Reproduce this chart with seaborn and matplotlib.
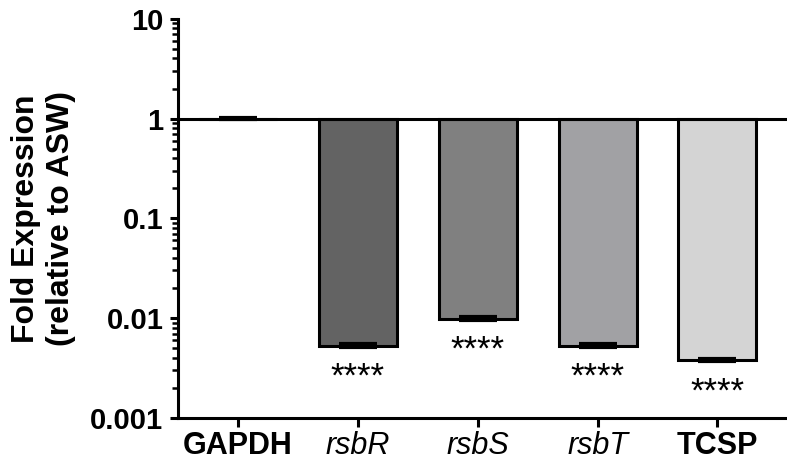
"""
Expresión relativa (fold change vs ASW) de genes rsb y TCSP, eje log.
"""

import matplotlib
matplotlib.use("Agg")
import matplotlib.pyplot as plt
import numpy as np
import seaborn as sns

genes = ["GAPDH", "rsbR", "rsbS", "rsbT", "TCSP"]
fold = [1.0, 0.0053, 0.0099, 0.0053, 0.0038]
sem = [0.02, 0.0002, 0.0003, 0.0002, 0.0001]
gris = ["#ffffff", "#636363", "#808080", "#a1a1a4", "#d4d4d4"]
signif = ["", "****", "****", "****", "****"]
italica = [False, True, True, True, False]

sns.set_style("ticks")
plt.rcParams["font.family"] = ["Liberation Sans", "DejaVu Sans"]
# todo en negro, como en Prism
for clave in ["text.color", "axes.labelcolor", "xtick.color", "ytick.color",
              "axes.edgecolor"]:
    plt.rcParams[clave] = "black"

fig = plt.figure(figsize=(7.87, 4.70), dpi=100)
ax = fig.add_axes([0.226, 0.111, 0.774, 0.849])

x = np.arange(len(genes))
lw = 2.2
# barras que cuelgan desde 1 (sin cambio) hacia abajo
ax.bar(x, np.array(fold) - 1, bottom=1, width=0.65, color=gris,
       edgecolor="black", linewidth=lw, zorder=2)
ax.errorbar(x, fold, yerr=sem, fmt="none", ecolor="black",
            capsize=14, capthick=3, elinewidth=2, zorder=3)
ax.axhline(1, color="black", linewidth=lw, zorder=4)

for xi, v, s in zip(x, fold, signif):
    if s:
        ax.annotate(s, (xi, v), xytext=(0, -11), textcoords="offset points",
                    ha="center", va="top", fontsize=25)

ax.set_yscale("log")
ax.set_ylim(0.001, 10)
ax.set_xlim(-0.5, 4.58)
ax.set_yticks([0.001, 0.01, 0.1, 1, 10])
ax.set_yticklabels(["0.001", "0.01", "0.1", "1", "10"],
                   fontsize=21, fontweight="bold")
ax.set_xticks(x)
ax.set_xticklabels(genes, fontsize=22)
for lab, it in zip(ax.get_xticklabels(), italica):
    if it:
        lab.set_fontstyle("italic")
    else:
        lab.set_fontweight("bold")

ax.set_ylabel("Fold Expression\n(relative to ASW)", fontsize=23,
              fontweight="bold", linespacing=1.22, labelpad=10)

sns.despine(ax=ax)
for lado in ["left", "bottom"]:
    ax.spines[lado].set_linewidth(lw)
ax.tick_params(axis="both", which="major", width=lw, length=5.5,
               color="black", pad=5)
ax.tick_params(axis="x", length=6.5, pad=3)
ax.tick_params(axis="y", which="minor", width=1.8, length=4)

fig.savefig("out.png", dpi=100)
